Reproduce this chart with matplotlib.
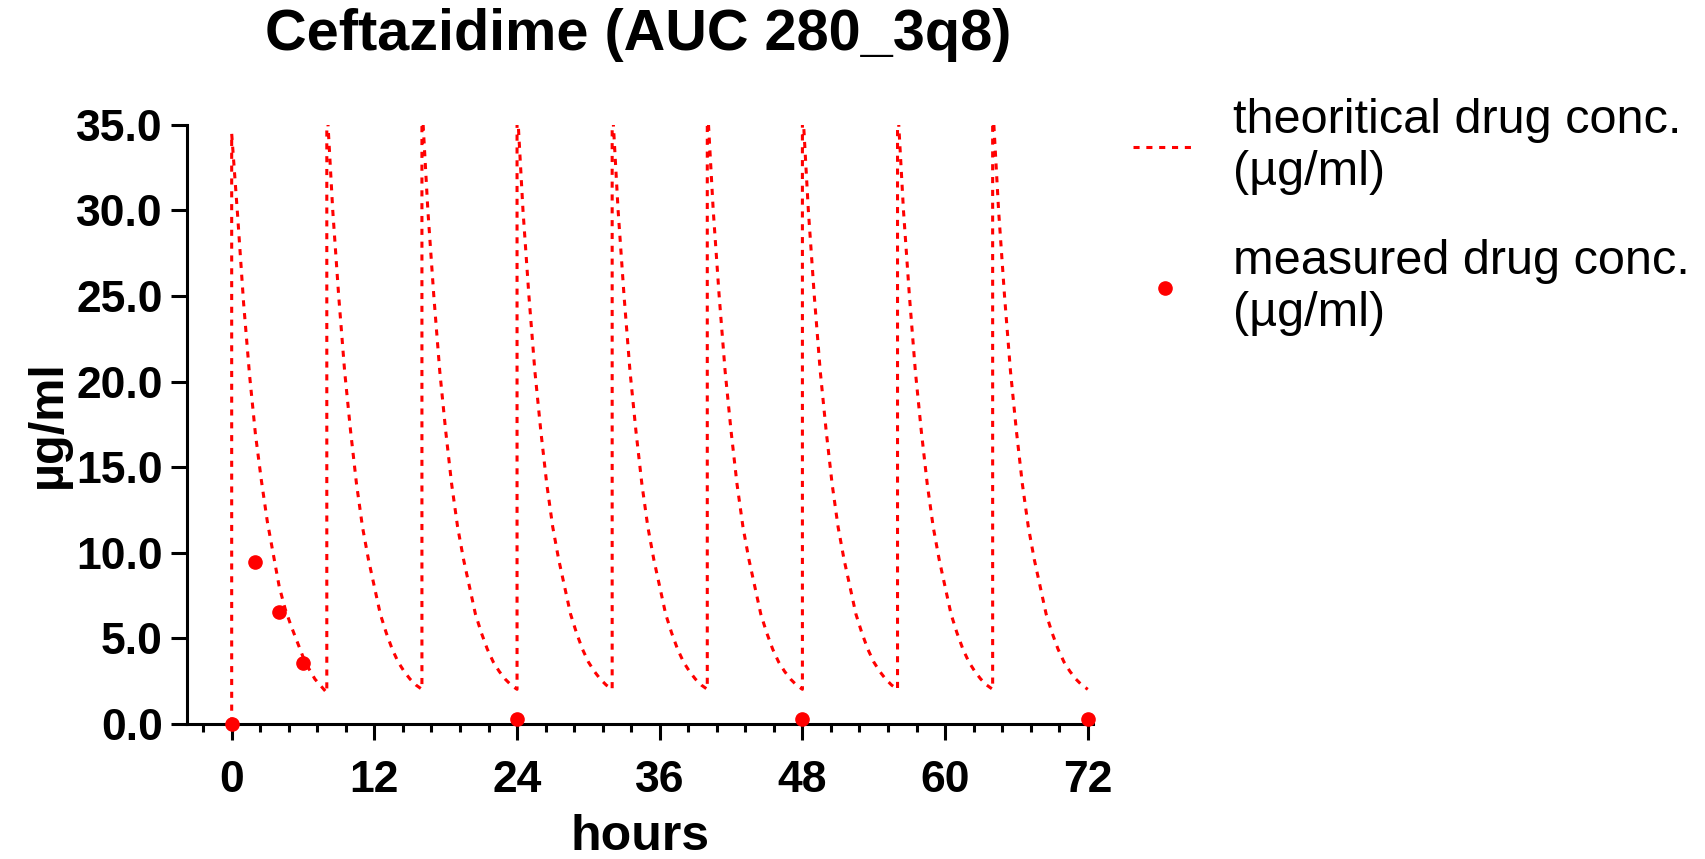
import matplotlib
matplotlib.use("Agg")
import matplotlib.pyplot as plt
import numpy as np

plt.rcParams['font.family'] = ['Liberation Sans', 'DejaVu Sans']

# dose times (hours), every 8 h
doses = [0, 8, 16, 24, 32, 40, 48, 56, 64]

# theoretical curve, time inside one dosing interval
tau = [0, 0.5, 1, 1.5, 2, 2.5, 3, 3.5, 4, 4.5, 5, 5.5, 6, 6.5, 7, 7.5, 8]
# first interval
conc_first = [34.5, 29.7, 24.6, 20.4, 16.9, 14.2, 11.8, 9.9, 8.0, 6.7,
              5.7, 4.8, 3.9, 3.2, 2.6, 2.2, 1.8]
# following intervals (peak goes above the axis top)
conc_next = [36.3, 30.0, 25.0, 20.6, 17.1, 14.0, 11.5, 9.6, 8.0, 6.4,
             5.3, 4.35, 3.6, 3.05, 2.6, 2.25, 2.0]

# measured points
hours_meas = [0, 2, 4, 6, 24, 48, 72]
conc_meas = [0.0, 9.45, 6.55, 3.55, 0.25, 0.25, 0.25]

# building the theoretical line
hours_theo = [0]
conc_theo = [0]
for i, d in enumerate(doses):
    perfil = conc_first if i == 0 else conc_next
    for t, c in zip(tau, perfil):
        hours_theo.append(d + t)
        conc_theo.append(c)

fig = plt.figure(figsize=(17.06, 8.59), dpi=100)
ax = fig.add_axes([0.1096, 0.1577, 0.5308, 0.6968])

ax.plot(hours_theo, conc_theo, color="red", lw=2.2, linestyle=(0, (2, 2.2)),
        label="theoritical drug conc.\n(µg/ml)")
ax.plot(hours_meas, conc_meas, "o", color="red", markersize=9.5, clip_on=False,
        zorder=5, label="measured drug conc.\n(µg/ml)")

ax.set_xlim(-3.76, 72.4)
ax.set_ylim(0, 35)
ax.set_xticks(range(0, 73, 12))
ax.set_xticks(np.arange(-2.4, 72.1, 2.4), minor=True)
ax.set_yticks(range(0, 36, 5))
ax.set_yticklabels(["%.1f" % v for v in range(0, 36, 5)])

for s in ["top", "right"]:
    ax.spines[s].set_visible(False)
for s in ["left", "bottom"]:
    ax.spines[s].set_linewidth(2.2)

ax.tick_params(axis="both", which="major", length=11.5, width=2.2,
               labelsize=32)
ax.tick_params(axis="x", which="major", pad=15)
ax.tick_params(axis="y", which="major", pad=6)
ax.tick_params(axis="x", which="minor", length=6, width=2.2)
for lab in ax.get_xticklabels() + ax.get_yticklabels():
    lab.set_fontweight("bold")

ax.set_xlabel("hours", fontsize=36, fontweight="bold", labelpad=9)
ax.set_ylabel("µg/ml", fontsize=35, fontweight="bold", labelpad=4)

fig.text(0.374, 0.942, "Ceftazidime (AUC 280_3q8)", fontsize=41.5,
         fontweight="bold", ha="center", va="baseline")

ax.legend(loc="upper left", bbox_to_anchor=(1133 / 1706, 0.886),
          bbox_transform=fig.transFigure, frameon=False, fontsize=35,
          handlelength=1.3, handletextpad=0.76, borderpad=0,
          borderaxespad=0, labelspacing=0.9)

fig.savefig("out.png", dpi=100)
